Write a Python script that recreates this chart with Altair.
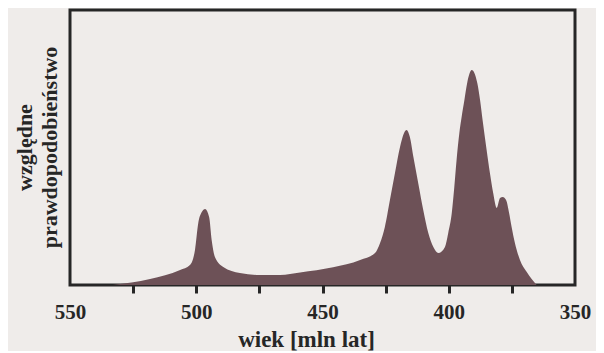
import altair as alt
import pandas as pd

# age [Ma] and relative probability (arbitrary units)
age = [533.0, 518.3, 506.4, 502.5, 501.7, 500.5, 499.2, 497.8, 496.5, 494.9,
       493.9, 492.6, 489.3, 482.7, 474.8, 466.8, 458.9, 445.8, 435.1, 429.2,
       427.2, 425.3, 423.3, 421.3, 419.3, 417.7, 416.7, 415.4, 414.0, 412.1,
       410.1, 408.1, 406.1, 404.1, 401.5, 400.2, 398.8, 397.8, 396.9, 395.8,
       394.9, 393.8, 392.7, 390.9, 388.7, 387.6, 386.6, 385.0, 383.7, 382.4,
       381.0, 379.7, 378.6, 377.3, 376.1, 375.1, 373.8, 371.8, 369.1, 365.2]
prob = [0, 6, 15, 20, 23, 35, 62, 73, 76, 68,
        45, 28, 18, 12, 10, 10, 12.5, 17.7, 25, 32,
        42, 58, 85, 112, 138, 152, 155, 148, 128, 102,
        75, 52, 38, 32, 38, 52, 72, 98, 125, 152,
        168, 185, 202, 215, 202, 185, 165, 135, 112, 92,
        77, 87, 88, 85, 72, 58, 42, 25, 13, 0]

tick_values = [550, 525, 500, 475, 450, 425, 400, 375, 350]
x_domain = [550, 350]
y_title = ["względne", "prawdopodobieństwo"]
x_title = "wiek [mln lat]"

df = pd.DataFrame({"age": age, "prob": prob})

ink = "#262626"
serif = "Liberation Serif"

chart = alt.Chart(df).mark_area(
    interpolate="monotone", color="#6d5157", opacity=1
).encode(
    x=alt.X("age:Q",
            scale=alt.Scale(domain=x_domain, nice=False, zero=False),
            axis=alt.Axis(values=tick_values,
                          labelExpr="datum.value % 50 == 0 ? datum.label : ''",
                          tickOpacity={"condition": {"test": "datum.value == 550 || datum.value == 350", "value": 0}, "value": 1},
                          tickSize=8, tickWidth=3, tickColor=ink,
                          domain=False, grid=False,
                          labelFont=serif, labelFontWeight="bold", labelFontSize=21,
                          labelColor=ink, labelPadding=8, labelFlush=False,
                          labelOverlap=False,
                          title=x_title, titleFont=serif, titleFontWeight="bold",
                          titleFontSize=23, titleColor=ink,
                          titleAnchor="start", titleAlign="center",
                          titleBaseline="alphabetic", titleX=236, titleY=61)),
    y=alt.Y("prob:Q",
            scale=alt.Scale(domain=[0, 275], nice=False),
            axis=alt.Axis(labels=False, ticks=False, domain=False, grid=False,
                          title=y_title, titleFont=serif, titleFontWeight="bold",
                          titleFontSize=22, titleColor=ink, titleAngle=270,
                          titleAlign="center", titleBaseline="middle",
                          titleLineHeight=25, titleX=-46, titleY=137)),
).properties(
    width=505, height=275,
    autosize="none",
    padding={"left": 62, "top": 2, "right": 21, "bottom": 66},
    background="#efecea",
).configure_view(stroke=ink, strokeWidth=3)

chart.save("out.html", embed_options={"renderer": "svg", "actions": False})
